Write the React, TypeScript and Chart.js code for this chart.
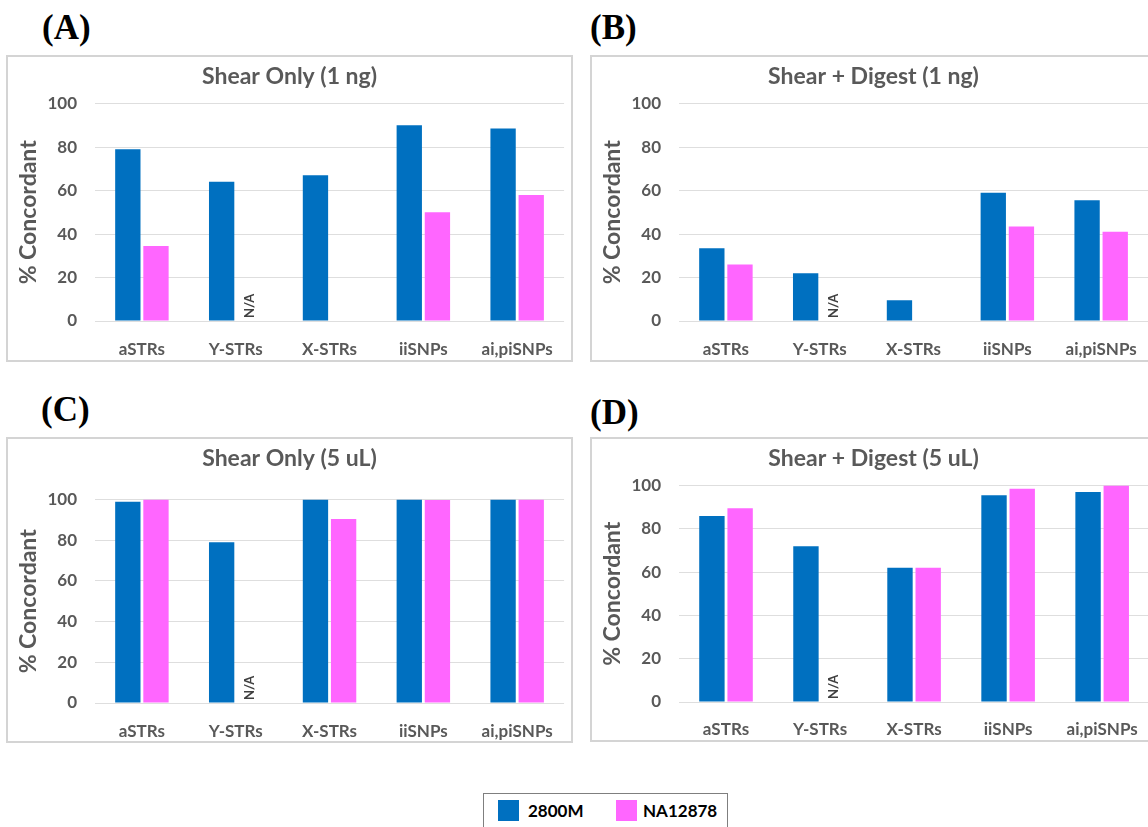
import React, { useEffect, useRef } from "react";
import { Chart, registerables } from "chart.js";

Chart.register(...registerables);

// ---------- data ----------
const categories = ["aSTRs", "Y-STRs", "X-STRs", "iiSNPs", "ai,piSNPs"];
const seriesNames = ["2800M", "NA12878"];
const yTickValues = [0, 20, 40, 60, 80, 100];

const shearOnly1ng2800M = [79, 64, 67, 90, 88.5];
const shearOnly1ngNA12878 = [34.5, null, null, 50, 58];
const shearDigest1ng2800M = [33.5, 22, 9.5, 59, 55.5];
const shearDigest1ngNA12878 = [26, null, null, 43.5, 41];
const shearOnly5uL2800M = [99, 79, 100, 100, 100];
const shearOnly5uLNA12878 = [100, null, 90.5, 99.8, 100];
const shearDigest5uL2800M = [86, 72, 62, 95.5, 97];
const shearDigest5uLNA12878 = [89.5, null, 62, 98.5, 100];

// N/A markers for the NA12878 series
const naFlagsNA12878 = [false, true, false, false, false];

const panelTitles = [
  "Shear Only (1 ng)",
  "Shear + Digest (1 ng)",
  "Shear Only (5 uL)",
  "Shear + Digest (5 uL)",
];
const panelLetters = ["(A)", "(B)", "(C)", "(D)"];

// ---------- styles ----------
const BLUE = "#0070C0";
const PINK = "#FF66FF";
const GRAY_TEXT = "#595959";
const FONT = "Lato, 'Open Sans', sans-serif";

const naPlugin = {
  id: "naLabels",
  afterDatasetsDraw(chart: any, _args: any, opts: any) {
    const flags: boolean[] = opts.flags || [];
    const meta = chart.getDatasetMeta(1);
    const ctx = chart.ctx;
    const xScale = chart.scales.x;
    const yScale = chart.scales.y;
    flags.forEach((f, i) => {
      if (!f) return;
      const el = meta.data[i];
      let x = el && isFinite(el.x) ? el.x : xScale.getPixelForValue(i) + 14;
      const y = yScale.getPixelForValue(0) - 3;
      ctx.save();
      ctx.translate(x, y);
      ctx.rotate(-Math.PI / 2);
      ctx.font = `bold 13px ${FONT}`;
      ctx.fillStyle = "#404040";
      ctx.textAlign = "left";
      ctx.textBaseline = "middle";
      ctx.fillText("N/A", 0, 0);
      ctx.restore();
    });
  },
};

type PanelCfg = {
  title: string;
  a: (number | null)[];
  b: (number | null)[];
  w: number;
  h: number;
  titleBottom: number;
  xHeight: number;
  xPad: number;
};

function BarPanel({ cfg }: { cfg: PanelCfg }) {
  const ref = useRef<HTMLCanvasElement | null>(null);
  useEffect(() => {
    if (!ref.current) return;
    const chart = new Chart(ref.current, {
      type: "bar",
      data: {
        labels: categories,
        datasets: [
          {
            label: seriesNames[0],
            data: cfg.a,
            backgroundColor: BLUE,
            borderWidth: 0,
            barPercentage: 0.9,
            categoryPercentage: 0.6,
          },
          {
            label: seriesNames[1],
            data: cfg.b,
            backgroundColor: PINK,
            borderWidth: 0,
            barPercentage: 0.9,
            categoryPercentage: 0.6,
          },
        ],
      },
      options: {
        animation: false,
        responsive: false,
        maintainAspectRatio: false,
        events: [],
        layout: { padding: { left: 3, right: 3, top: 0, bottom: 0 } },
        plugins: {
          legend: { display: false },
          tooltip: { enabled: false },
          title: {
            display: true,
            text: cfg.title,
            color: GRAY_TEXT,
            font: { family: FONT, size: 23, weight: "bold" },
            padding: { top: 6, bottom: cfg.titleBottom },
          },
          naLabels: { flags: naFlagsNA12878 },
        } as any,
        scales: {
          x: {
            grid: { display: false, drawTicks: false },
            border: { display: false },
            ticks: {
              color: GRAY_TEXT,
              font: { family: FONT, size: 17, weight: "bold" },
              padding: cfg.xPad,
              maxRotation: 0,
              autoSkip: false,
            },
            afterFit: (s: any) => {
              s.height = cfg.xHeight;
            },
          },
          y: {
            min: 0,
            max: 100,
            afterBuildTicks: (s: any) => {
              s.ticks = yTickValues.map((v) => ({ value: v }));
            },
            ticks: {
              color: GRAY_TEXT,
              font: { family: FONT, size: 17, weight: "bold" },
              padding: 18,
            },
            grid: { color: "#dedede", lineWidth: 1, drawTicks: false },
            border: { display: false },
            title: {
              display: true,
              text: "% Concordant",
              color: GRAY_TEXT,
              font: { family: FONT, size: 23, weight: "bold" },
              padding: { top: 4, bottom: 4 },
            },
            afterFit: (s: any) => {
              s.width = 84;
            },
          },
        },
      },
      plugins: [naPlugin as any],
    });
    return () => chart.destroy();
  }, [cfg]);
  return <canvas ref={ref} width={cfg.w} height={cfg.h} style={{ display: "block" }} />;
}

const panels: { left: number; top: number; height: number; cfg: PanelCfg; labelLeft: number; labelTop: number }[] = [
  {
    left: 6,
    top: 55,
    height: 307,
    labelLeft: 42,
    labelTop: 8,
    cfg: { title: panelTitles[0], a: shearOnly1ng2800M, b: shearOnly1ngNA12878, w: 563, h: 303, titleBottom: 13, xHeight: 39, xPad: 18 },
  },
  {
    left: 590,
    top: 55,
    height: 307,
    labelLeft: 590,
    labelTop: 8,
    cfg: { title: panelTitles[1], a: shearDigest1ng2800M, b: shearDigest1ngNA12878, w: 563, h: 303, titleBottom: 13, xHeight: 39, xPad: 18 },
  },
  {
    left: 6,
    top: 437,
    height: 306,
    labelLeft: 41,
    labelTop: 390,
    cfg: { title: panelTitles[2], a: shearOnly5uL2800M, b: shearOnly5uLNA12878, w: 563, h: 302, titleBottom: 27, xHeight: 38, xPad: 18 },
  },
  {
    left: 590,
    top: 437,
    height: 305,
    labelLeft: 590,
    labelTop: 393,
    cfg: { title: panelTitles[3], a: shearDigest5uL2800M, b: shearDigest5uLNA12878, w: 563, h: 301, titleBottom: 13, xHeight: 38, xPad: 17 },
  },
];

export default function App() {
  return (
    <div
      style={{
        position: "absolute",
        left: 0,
        top: 0,
        width: 1148,
        height: 827,
        overflow: "hidden",
        background: "#ffffff",
      }}
    >
      {panels.map((p, i) => (
        <React.Fragment key={i}>
          <div
            style={{
              position: "absolute",
              left: p.labelLeft,
              top: p.labelTop,
              fontFamily: "'Liberation Serif', 'Times New Roman', serif",
              fontWeight: "bold",
              fontSize: 35,
              lineHeight: "40px",
              color: "#000",
            }}
          >
            {panelLetters[i]}
          </div>
          <div
            style={{
              position: "absolute",
              left: p.left,
              top: p.top,
              width: 567,
              height: p.height,
              border: "2px solid #d4d4d4",
              boxSizing: "border-box",
              background: "#fff",
            }}
          >
            <BarPanel cfg={p.cfg} />
          </div>
        </React.Fragment>
      ))}
      <div
        style={{
          position: "absolute",
          left: 483,
          top: 793,
          width: 245,
          height: 50,
          border: "1px solid #7f7f7f",
          boxSizing: "border-box",
          fontFamily: FONT,
          fontWeight: "bold",
          fontSize: 17,
          color: "#000",
        }}
      >
        <div style={{ position: "absolute", left: 14, top: 6, width: 21, height: 21, background: BLUE }} />
        <div style={{ position: "absolute", left: 44, top: 6, lineHeight: "21px" }}>{seriesNames[0]}</div>
        <div style={{ position: "absolute", left: 132, top: 6, width: 21, height: 21, background: PINK }} />
        <div style={{ position: "absolute", left: 159, top: 6, lineHeight: "21px" }}>{seriesNames[1]}</div>
      </div>
    </div>
  );
}
